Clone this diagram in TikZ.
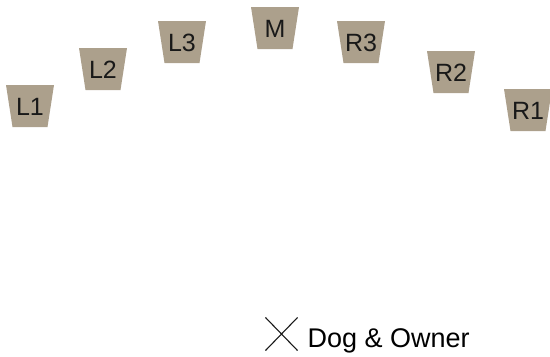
\documentclass[tikz,border=0pt]{standalone}
\usepackage{fontspec}
\setmainfont{Liberation Sans}
\usetikzlibrary{shapes.misc}
\definecolor{seatcol}{RGB}{172,160,140}
\tikzset{
  seatfill/.style={fill=seatcol},
  seatlabel/.style={inner sep=0pt, text=black!90, font=\fontsize{25bp}{29bp}\selectfont},
  ownerlabel/.style={inner sep=0pt, anchor=base west, font=\fontsize{27bp}{32bp}\selectfont},
  crossmark/.style={cross out, draw=black!90, line width=1.1bp, inner sep=0pt, minimum width=31bp, minimum height=32bp}
}
\newcommand\seatshape[4]{% name, center x, top y, label
  \fill[seatfill] (#2-24,#3) -- (#2+24,#3) -- (#2+17.5,#3+42) -- (#2-17.5,#3+42) -- cycle;
  \node[seatlabel] (#1) at (#2,#3+21.5) {#4};}
\begin{document}
\begin{tikzpicture}[x=1bp,y=-1bp]
\useasboundingbox (0,0) rectangle (550,356);
\seatshape{l1}{30}{85}{L1}
\seatshape{l2}{103}{48}{L2}
\seatshape{l3}{182}{21}{L3}
\seatshape{m}{275}{7}{M}
\seatshape{r3}{361}{21}{R3}
\seatshape{r2}{451}{51}{R2}
\seatshape{r1}{528}{89}{R1}
\node[crossmark] (dog) at (281.5,334) {};
\node[ownerlabel] (owner) at (307.5,347) {Dog \& Owner};
\end{tikzpicture}
\end{document}
